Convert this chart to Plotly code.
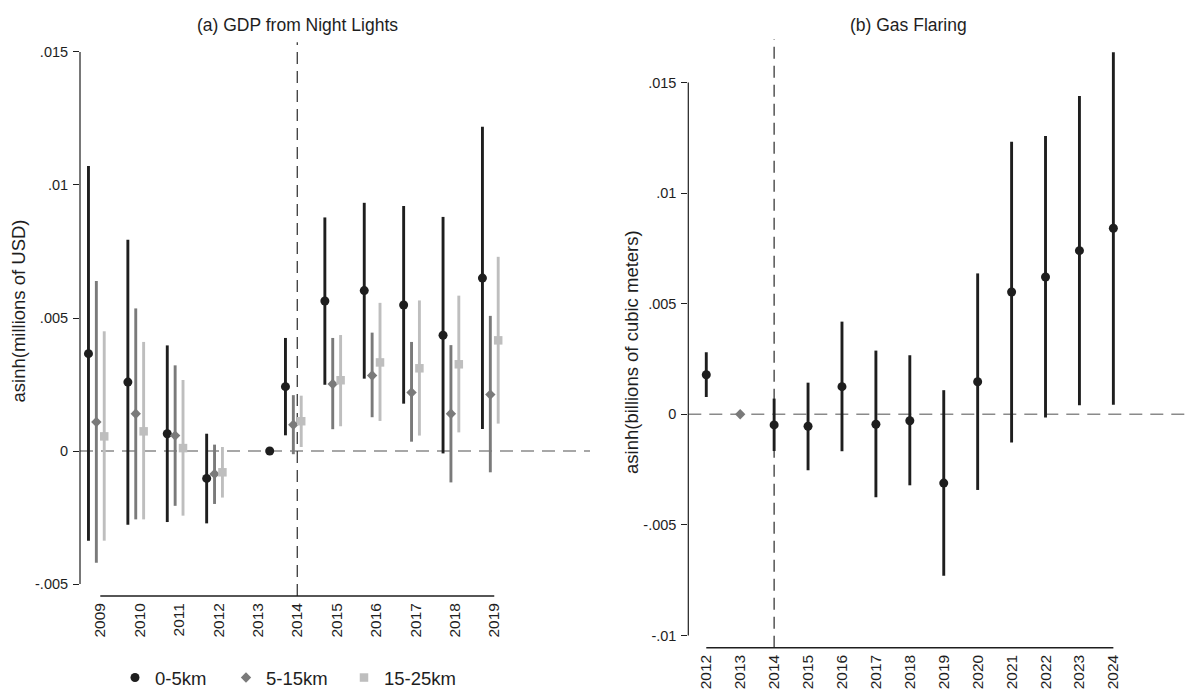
import plotly.graph_objects as go

W, H = 1190, 690
FONT = "Arial, Liberation Sans, sans-serif"
INK = "#1e1e1e"
MID = "#7a7a7a"
LIGHT = "#bebebe"

# ---------------- Panel (a): GDP from Night Lights ----------------
years_a = [2009, 2010, 2011, 2012, 2013, 2014, 2015, 2016, 2017, 2018, 2019]
est_0_5 = [0.00366, 0.00259, 0.00065, -0.00103, None, 0.00242, 0.00564, 0.00603, 0.00549, 0.00435, 0.00650]
lo_0_5 = [-0.00337, -0.00277, -0.00267, -0.00272, None, 0.00059, 0.00249, 0.00272, 0.00178, -0.00009, 0.00083]
hi_0_5 = [0.01071, 0.00794, 0.00397, 0.00065, None, 0.00425, 0.00878, 0.00933, 0.00921, 0.00880, 0.01219]

est_5_15 = [0.00109, 0.00140, 0.00058, -0.00086, None, 0.00099, 0.00252, 0.00284, 0.00220, 0.00140, 0.00212]
lo_5_15 = [-0.00420, -0.00257, -0.00206, -0.00199, None, -0.00012, 0.00082, 0.00127, 0.00035, -0.00118, -0.00080]
hi_5_15 = [0.00639, 0.00536, 0.00322, 0.00024, None, 0.00210, 0.00425, 0.00445, 0.00410, 0.00398, 0.00508]

est_15_25 = [0.00055, 0.00074, 0.00011, -0.00080, None, 0.00112, 0.00266, 0.00333, 0.00311, 0.00326, 0.00416]
lo_15_25 = [-0.00337, -0.00257, -0.00243, -0.00175, None, 0.00015, 0.00093, 0.00113, 0.00058, 0.00070, 0.00103]
hi_15_25 = [0.00450, 0.00410, 0.00267, 0.00015, None, 0.00208, 0.00436, 0.00557, 0.00566, 0.00584, 0.00730]

ref_year_a = 2013
ref_value_a = 0.0

yticks_a = [-0.005, 0, 0.005, 0.01, 0.015]
yticktext_a = ["-.005", "0", ".005", ".01", ".015"]

# ---------------- Panel (b): Gas Flaring ----------------
years_b = [2012, 2013, 2014, 2015, 2016, 2017, 2018, 2019, 2020, 2021, 2022, 2023, 2024]
est_b = [0.00179, None, -0.00048, -0.00054, 0.00125, -0.00045, -0.00029, -0.00311, 0.00147, 0.00553, 0.00621, 0.00740, 0.00841]
lo_b = [0.00078, None, -0.00166, -0.00253, -0.00167, -0.00375, -0.00321, -0.00730, -0.00342, -0.00127, -0.00014, 0.00041, 0.00043]
hi_b = [0.00280, None, 0.00071, 0.00143, 0.00419, 0.00288, 0.00267, 0.00109, 0.00637, 0.01232, 0.01258, 0.01439, 0.01637]
ref_year_b = 2013
ref_value_b = 0.0

yticks_b = [-0.01, -0.005, 0, 0.005, 0.01, 0.015]
yticktext_b = ["-.01", "-.005", "0", ".005", ".01", ".015"]

event_year = 2014

# series offsets (category dodge) for panel (a)
OFF_0_5, OFF_5_15, OFF_15_25, OFF_REF = -0.3, -0.1, 0.1, 0.3


def err(est, lo, hi):
    plus = [None if e is None else h - e for e, h in zip(est, hi)]
    minus = [None if e is None else e - l for e, l in zip(est, lo)]
    return plus, minus


def px_x(p):
    return p / W


def px_y(p):
    return 1 - p / H


fig = go.Figure()

series_a = [
    ("0-5km", est_0_5, lo_0_5, hi_0_5, OFF_0_5, INK, "circle", 9, "legend"),
    ("5-15km", est_5_15, lo_5_15, hi_5_15, OFF_5_15, MID, "diamond", 8, "legend2"),
    ("15-25km", est_15_25, lo_15_25, hi_15_25, OFF_15_25, LIGHT, "square", 8.5, "legend3"),
]
for name, est, lo, hi, off, col, sym, size, leg in series_a:
    plus, minus = err(est, lo, hi)
    fig.add_trace(go.Scatter(
        x=[y + off for y in years_a], y=est, mode="markers", name=name,
        marker=dict(color=col, symbol=sym, size=size, line=dict(width=0)),
        error_y=dict(type="data", symmetric=False, array=plus, arrayminus=minus,
                     color=col, thickness=2.9, width=0),
        xaxis="x", yaxis="y", legend=leg, showlegend=True,
    ))

# reference year (normalised to zero) in panel (a)
fig.add_trace(go.Scatter(
    x=[ref_year_a + OFF_REF], y=[ref_value_a], mode="markers", showlegend=False,
    marker=dict(color=INK, symbol="circle", size=9), xaxis="x", yaxis="y",
))

# panel (b)
plus_b, minus_b = err(est_b, lo_b, hi_b)
fig.add_trace(go.Scatter(
    x=years_b, y=est_b, mode="markers", showlegend=False,
    marker=dict(color=INK, symbol="circle", size=9),
    error_y=dict(type="data", symmetric=False, array=plus_b, arrayminus=minus_b,
                 color=INK, thickness=2.9, width=0),
    xaxis="x2", yaxis="y2",
))
fig.add_trace(go.Scatter(
    x=[ref_year_b], y=[ref_value_b], mode="markers", showlegend=False,
    marker=dict(color=MID, symbol="diamond", size=8), xaxis="x2", yaxis="y2",
))

# ---------------- Layout ----------------
xtickfont = dict(family=FONT, size=15.5, color=INK)
ytickfont = dict(family=FONT, size=14.5, color=INK)

xa_dom = [px_x(80), px_x(590)]
ya_dom = [px_y(596), px_y(40)]
xb_dom = [px_x(688.3), px_x(1188)]
yb_dom = [px_y(647.7), px_y(38)]

common_x = dict(showgrid=False, zeroline=False, showline=False, ticks="",
                tickangle=-90, tickfont=xtickfont, ticklabelstandoff=3, automargin=False)
common_y = dict(showgrid=False, zeroline=False, showline=False, ticks="outside",
                ticklen=6, tickwidth=1.2, tickcolor=INK, tickfont=ytickfont,
                ticklabelstandoff=2, automargin=False)

fig.update_layout(
    width=W, height=H, margin=dict(l=0, r=0, t=0, b=0, autoexpand=False),
    paper_bgcolor="white", plot_bgcolor="white",
    font=dict(family=FONT, color=INK),
    xaxis=dict(domain=xa_dom, range=[2008.485, 2021.43], tickvals=years_a,
               ticktext=[str(y) for y in years_a], anchor="y", **common_x),
    yaxis=dict(domain=ya_dom, range=[-0.00545, 0.01545], tickvals=yticks_a,
               ticktext=yticktext_a, anchor="x", **common_y),
    xaxis2=dict(domain=xb_dom, range=[2011.47, 2026.20], tickvals=years_b,
                ticktext=[str(y) for y in years_b], anchor="y2", **common_x),
    yaxis2=dict(domain=yb_dom, range=[-0.010552, 0.017013], tickvals=yticks_b,
                ticktext=yticktext_b, anchor="x2", **common_y),
)

leg_common = dict(orientation="h", yanchor="middle", y=px_y(678), xanchor="left",
                  bgcolor="rgba(0,0,0,0)", borderwidth=0,
                  font=dict(family=FONT, size=18.5, color=INK), itemwidth=30)
fig.update_layout(
    legend=dict(x=px_x(115), **leg_common),
    legend2=dict(x=px_x(226), **leg_common),
    legend3=dict(x=px_x(344), **leg_common),
)

shapes = []
# axis lines spanning the tick range only
shapes.append(dict(type="line", xref="paper", yref="y", x0=px_x(80), x1=px_x(80),
                   y0=yticks_a[0], y1=yticks_a[-1], line=dict(color=INK, width=1.2)))
shapes.append(dict(type="line", xref="x", yref="y domain", x0=years_a[0], x1=years_a[-1],
                   y0=0, y1=0, line=dict(color=INK, width=1.5)))
shapes.append(dict(type="line", xref="paper", yref="y2", x0=px_x(688.3), x1=px_x(688.3),
                   y0=yticks_b[0], y1=yticks_b[-1], line=dict(color=INK, width=1.2)))
shapes.append(dict(type="line", xref="x2", yref="y2 domain", x0=years_b[0], x1=years_b[-1],
                   y0=0, y1=0, line=dict(color=INK, width=1.5)))
# zero reference lines
shapes.append(dict(type="line", xref="x domain", yref="y", x0=0, x1=1, y0=0, y1=0,
                   layer="below", line=dict(color="#8a8a8a", width=1.6, dash="13px,8px")))
shapes.append(dict(type="line", xref="x2 domain", yref="y2", x0=0, x1=1, y0=0, y1=0,
                   layer="below", line=dict(color="#8a8a8a", width=1.6, dash="13px,8px")))
# event year lines
shapes.append(dict(type="line", xref="x", yref="y domain", x0=event_year, x1=event_year,
                   y0=0, y1=0.996, layer="below", line=dict(color="#3a3a3a", width=1.3, dash="12px,7px")))
shapes.append(dict(type="line", xref="x2", yref="y2 domain", x0=event_year, x1=event_year,
                   y0=0, y1=0.998, layer="below", line=dict(color="#3a3a3a", width=1.3, dash="12px,7px")))
fig.update_layout(shapes=shapes)

annotations = [
    dict(text="(a) GDP from Night Lights", x=px_x(297.5), y=px_y(25), xref="paper", yref="paper",
         showarrow=False, xanchor="center", yanchor="middle", font=dict(family=FONT, size=17.5, color=INK)),
    dict(text="(b) Gas Flaring", x=px_x(909), y=px_y(25), xref="paper", yref="paper",
         showarrow=False, xanchor="center", yanchor="middle", font=dict(family=FONT, size=17.5, color=INK)),
    dict(text="asinh(millions of USD)", x=px_x(17.5), y=px_y(311), xref="paper", yref="paper",
         showarrow=False, textangle=-90, xanchor="center", yanchor="middle",
         font=dict(family=FONT, size=18.5, color=INK)),
    dict(text="asinh(billions of cubic meters)", x=px_x(631), y=px_y(352), xref="paper", yref="paper",
         showarrow=False, textangle=-90, xanchor="center", yanchor="middle",
         font=dict(family=FONT, size=18.5, color=INK)),
]
fig.update_layout(annotations=annotations)

fig.write_html("out.html")
